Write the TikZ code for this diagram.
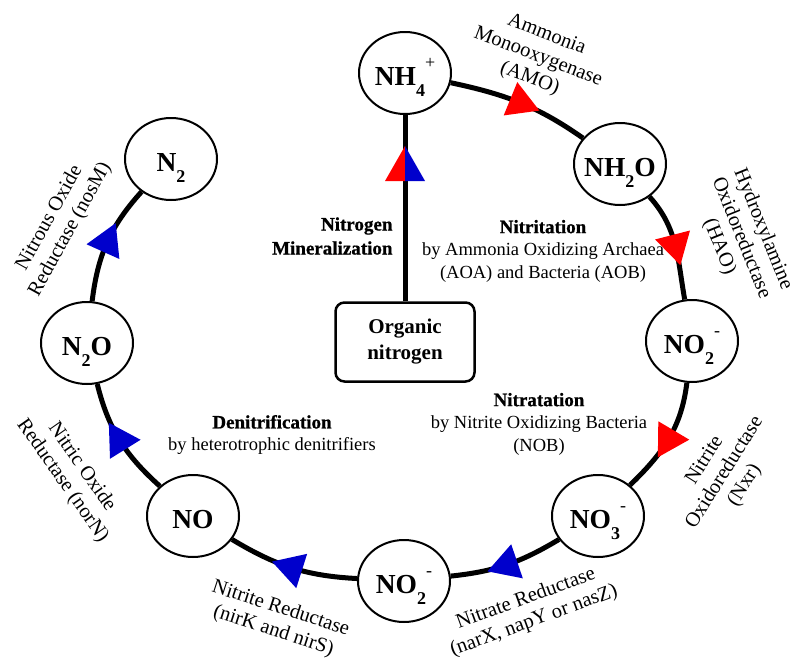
\documentclass[tikz,border=0pt]{standalone}
\usepackage{fontspec}
\setmainfont{Liberation Serif}
\newfontfamily\heavyfont{Liberation Serif}[UprightFont={* Bold},FakeBold=0.8]
\usetikzlibrary{shapes.geometric,decorations.markings}
\definecolor{oxred}{RGB}{255,0,0}
\definecolor{redblue}{RGB}{0,0,204}
\newcommand{\chemtxt}[1]{\makebox[40pt]{#1}}
\newcommand{\lowsub}[1]{\raisebox{-11pt}{\fontsize{18}{18}\selectfont #1}}
\newcommand{\highsup}[1]{\raisebox{17pt}{\fontsize{18}{18}\selectfont\mdseries #1}}

\begin{document}
\begin{tikzpicture}[x=1pt,y=1pt,
  species/.style={ellipse,draw,line width=2pt,fill=white,minimum width=92pt,
    minimum height=82pt,inner sep=0pt,text height=26pt,text depth=2pt,
    font=\fontsize{27.5}{30}\selectfont\bfseries},
  ringline/.style={line width=5pt},
  tri/.style={postaction={decorate,decoration={markings,
    mark=at position 0.5 with {\fill[#1] (20.8,0) -- (-10.4,18) -- (-10.4,-18) -- cycle;}}}},
  enzyme/.style={align=center,font=\fontsize{20.5}{23.5}\selectfont},
  stage/.style={align=center,font=\fontsize{18.5}{22.5}\selectfont},
  organic/.style={draw,rounded corners=9pt,line width=2.5pt,minimum width=139pt,
    minimum height=79pt,align=center,font=\fontsize{21}{26}\selectfont\bfseries}]
  \useasboundingbox (0,0) rectangle (798,-659);

  \node[species] (nh4) at (405,-73) {\chemtxt{NH\lowsub{4}\highsup{+}}};
  \node[species] (nh2o) at (620,-164) {\chemtxt{NH\lowsub{2}O}};
  \node[species] (no2a) at (692,-341) {\chemtxt{NO\lowsub{2}\highsup{-}}};
  \node[species] (no3) at (598,-516) {\chemtxt{NO\lowsub{3}\highsup{-}}};
  \node[species] (no2b) at (404,-581) {\chemtxt{NO\lowsub{2}\highsup{-}}};
  \node[species] (no) at (193,-516) {\chemtxt{NO}};
  \node[species] (n2o) at (87,-343) {\chemtxt{N\lowsub{2}O}};
  \node[species] (n2) at (171,-159) {\chemtxt{N\lowsub{2}}};
  \node[organic] (org) at (405,-342) {Organic\\nitrogen};

  \draw[ringline,tri=oxred] (nh4) to[out=-12,in=145] (nh2o);
  \draw[ringline,tri=oxred] (nh2o) to[out=-48,in=100] (no2a);
  \draw[ringline,tri=oxred] (no2a) to[out=-97,in=44] (no3);
  \draw[ringline,tri=redblue] (no3) to[out=-149,in=6] (no2b);
  \draw[ringline,tri=redblue] (no2b) to[out=177,in=-31] (no);
  \draw[ringline,tri=redblue] (no) to[out=138,in=-76] (n2o);
  \draw[ringline,tri=redblue] (n2o) to[out=83,in=228] (n2);

  \draw[ringline] (org) -- (nh4);
  \coordinate (mintip) at (405,-146);
  \fill[oxred] (mintip) -- ++(-20,-35) -- ++(20,0) -- cycle;
  \fill[redblue] (mintip) -- ++(20,-35) -- ++(-20,0) -- cycle;

  \node[enzyme,rotate=-21] (amo) at (538,-57) {Ammonia\\Monooxygenase\\(AMO)};
  \node[enzyme,rotate=-68] (hao) at (741,-238) {Hydroxylamine\\Oxidoreductase\\(HAO)};
  \node[enzyme,rotate=58] (nxr) at (725,-473) {Nitrite\\Oxidoreductase\\(Nxr)};
  \node[enzyme,rotate=20] (nar) at (530,-610) {Nitrate Reductase\\(narX, napY or nasZ)};
  \node[enzyme,rotate=-18] (nir) at (277,-620) {Nitrite Reductase\\(nirK and nirS)};
  \node[enzyme,rotate=-55] (nor) at (72,-474) {Nitric Oxide\\Reductase (norN)};
  \node[enzyme,rotate=61] (nos) at (60,-224) {Nitrous Oxide\\Reductase (nosM)};

  \node[stage] (nitritation) at (543,-251)
    {{\fontsize{19}{22.5}\selectfont\heavyfont Nitritation}\\by Ammonia Oxidizing Archaea\\(AOA) and Bacteria (AOB)};
  \node[stage] (nitratation) at (539,-424)
    {{\fontsize{19}{22.5}\selectfont\heavyfont Nitratation}\\by Nitrite Oxidizing Bacteria\\(NOB)};
  \node[stage] (denitrification) at (272,-435)
    {{\fontsize{19}{22.5}\selectfont\heavyfont Denitrification}\\by heterotrophic denitrifiers};
  \node[stage,align=right,anchor=east,font=\fontsize{19}{24}\selectfont\heavyfont] (mineral) at (396,-236)
    {Nitrogen\\Mineralization};
\end{tikzpicture}
\end{document}
